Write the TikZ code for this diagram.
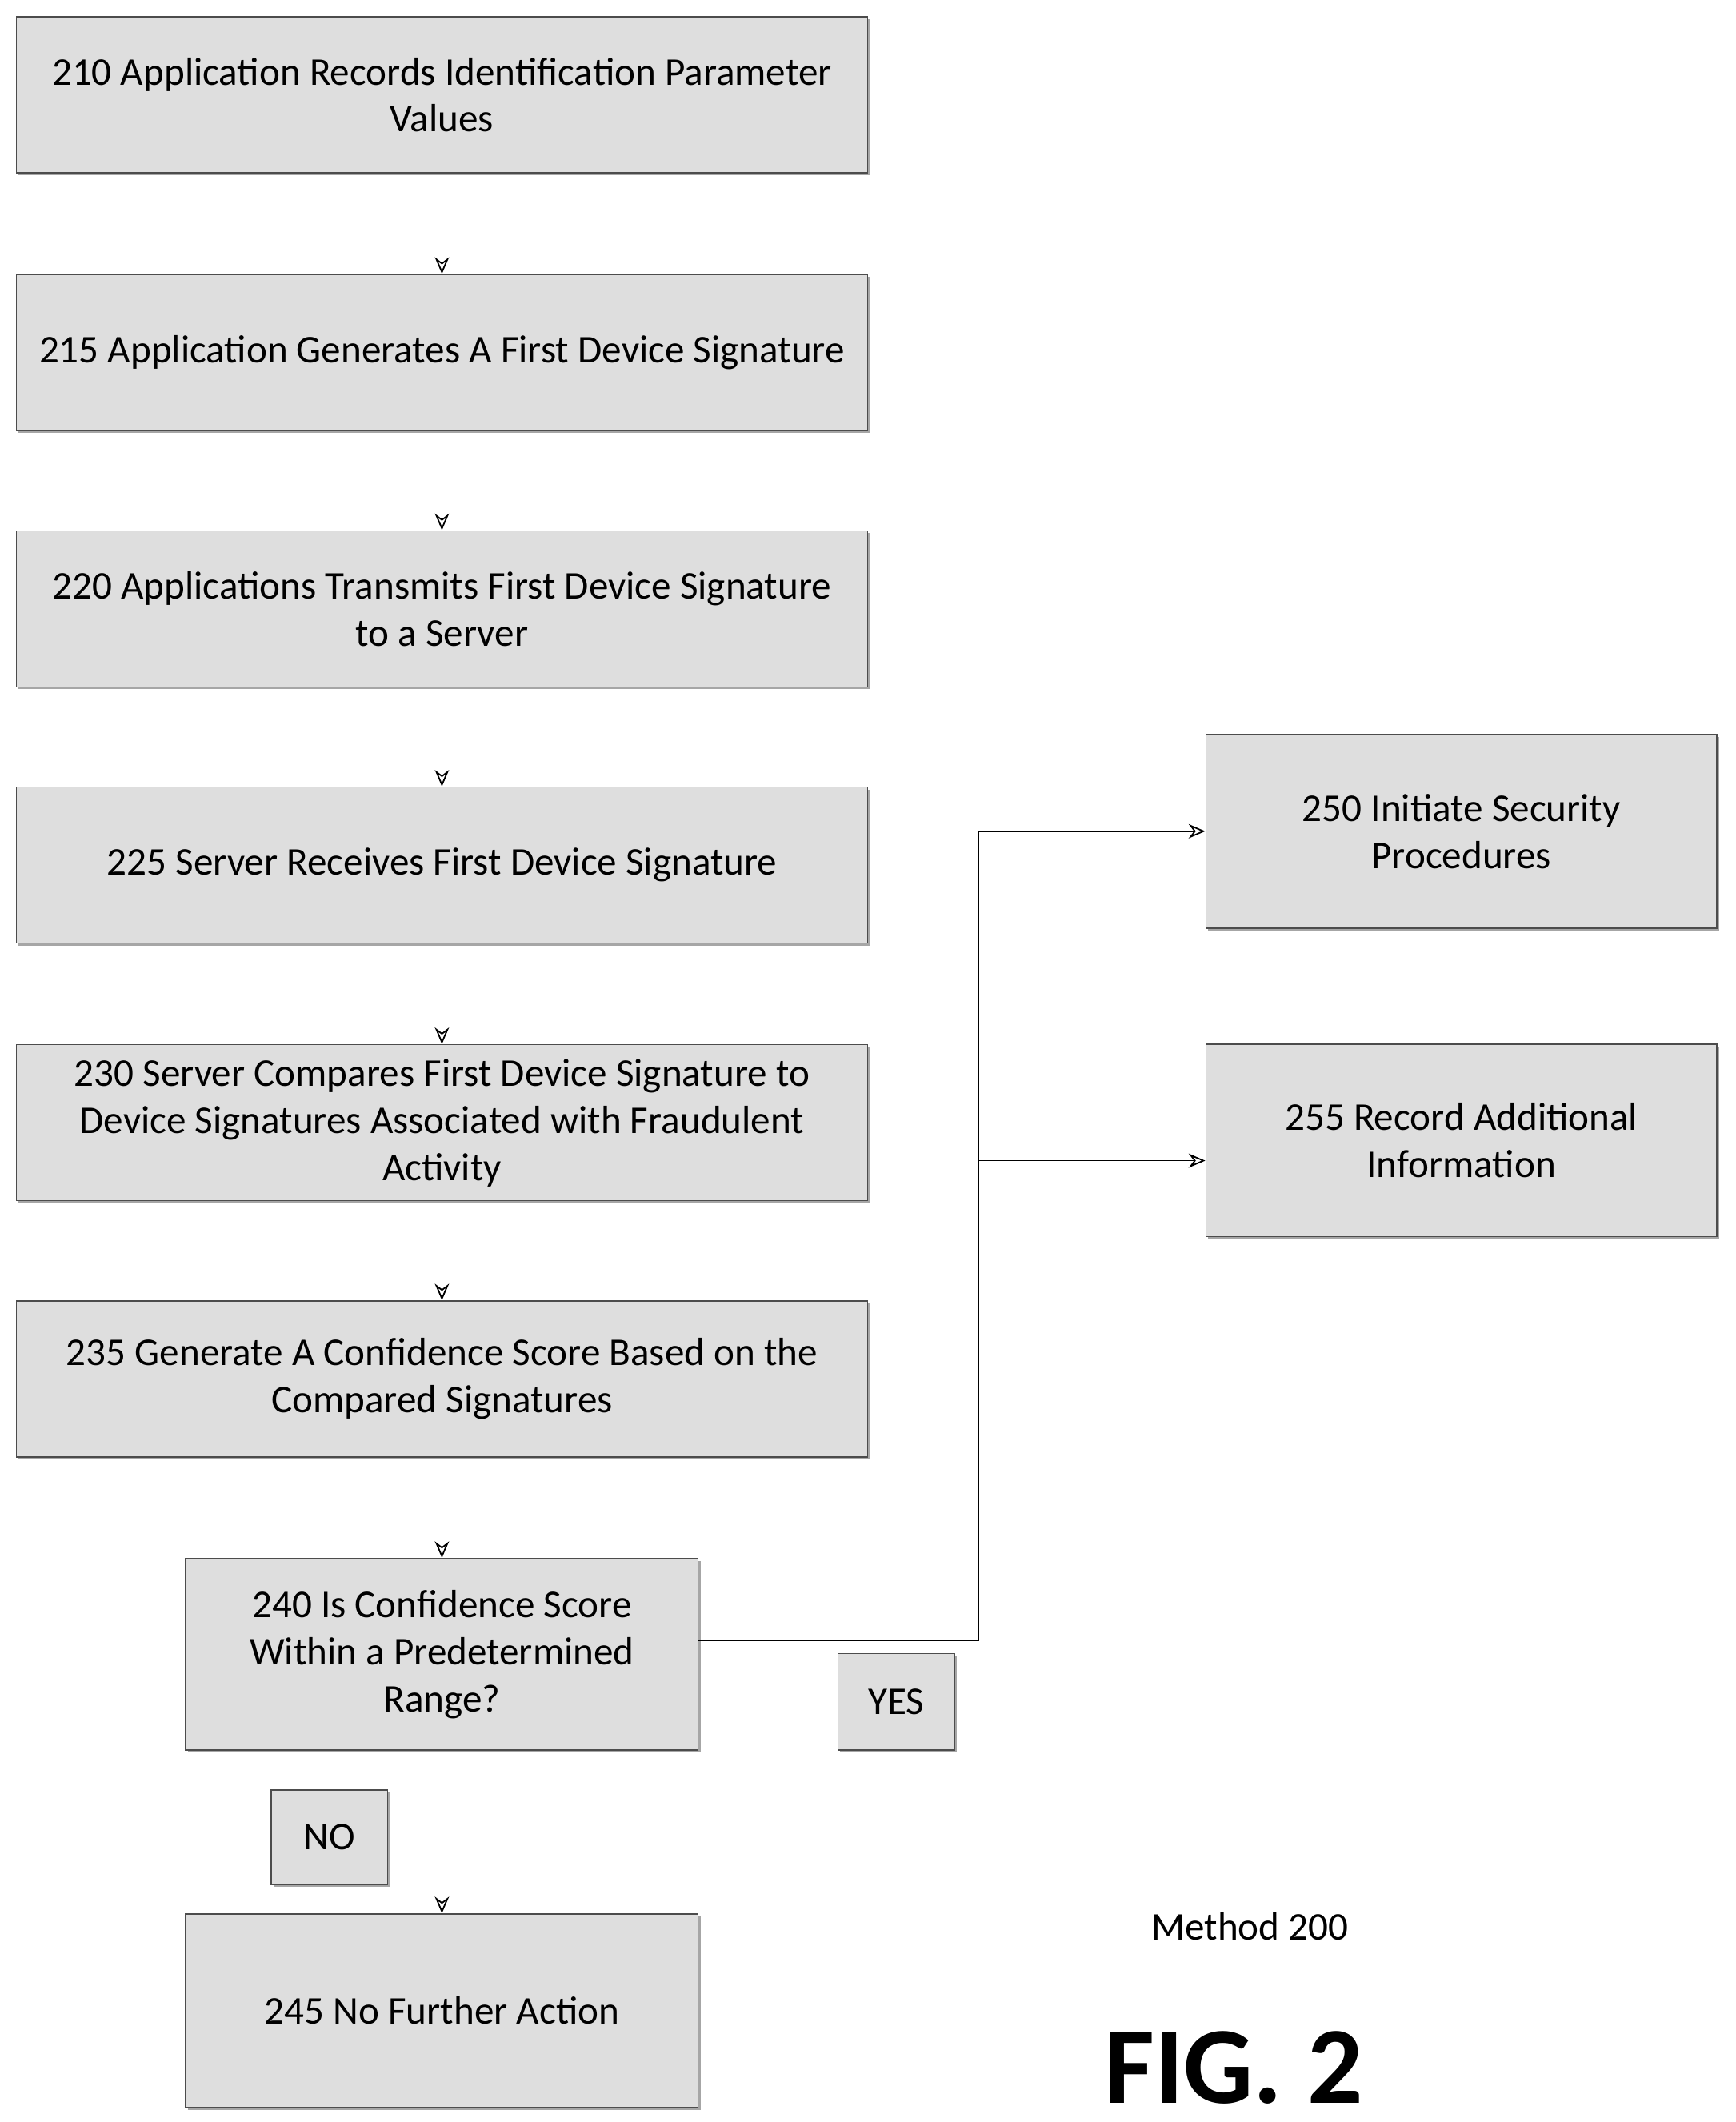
\documentclass[tikz,border=0pt]{standalone}
\usepackage{fontspec}
\setmainfont{Carlito}
\usetikzlibrary{arrows.meta,shadows}
\tikzstyle{block}=[draw=black!70, fill=black!13, line width=0.5pt, align=center,
  font=\fontsize{16.5}{19.8}\selectfont, inner sep=2pt,
  drop shadow={shadow xshift=1pt, shadow yshift=-1pt, fill=black!35, opacity=1}]
\tikzstyle{link}=[draw, line width=0.6pt, -{Stealth[length=7pt,width=6pt,open]}]
\newcommand{\block}{\node[block]}

\begin{document}
\begin{tikzpicture}[x=0.02cm, y=-0.02cm]
\useasboundingbox (0,0) rectangle (1280,1565);
\block[minimum width=628*0.02cm, minimum height=115*0.02cm] (s210) at (326,70) {210 Application Records Identification Parameter\\Values};
\block[minimum width=628*0.02cm, minimum height=115*0.02cm] (s215) at (326,260) {215 Application Generates A First Device Signature};
\block[minimum width=628*0.02cm, minimum height=115*0.02cm] (s220) at (326,449) {220 Applications Transmits First Device Signature\\to a Server};
\block[minimum width=628*0.02cm, minimum height=115*0.02cm] (s225) at (326,638) {225 Server Receives First Device Signature};
\block[minimum width=628*0.02cm, minimum height=115*0.02cm] (s230) at (326,828) {230 Server Compares First Device Signature to\\Device Signatures Associated with Fraudulent\\Activity};
\block[minimum width=628*0.02cm, minimum height=115*0.02cm] (s235) at (326,1017) {235 Generate A Confidence Score Based on the\\Compared Signatures};
\block[minimum width=378*0.02cm, minimum height=141*0.02cm] (s240) at (326,1220) {240 Is Confidence Score\\Within a Predetermined\\Range?};
\block[minimum width=378*0.02cm, minimum height=143*0.02cm] (s245) at (326,1483) {245 No Further Action};
\block[minimum width=377*0.02cm, minimum height=143*0.02cm] (s250) at (1078,613) {250 Initiate Security\\Procedures};
\block[minimum width=377*0.02cm, minimum height=142*0.02cm] (s255) at (1078,841) {255 Record Additional\\Information};
\block[minimum width=86*0.02cm, minimum height=71*0.02cm] (yes) at (661,1255) {YES};
\block[minimum width=86*0.02cm, minimum height=70*0.02cm] (no) at (243,1355) {NO};
\node[font=\fontsize{16.5}{19.8}\selectfont] (method) at (922,1421) {Method 200};
\node[font=\fontsize{46}{50}\bfseries] (fig) at (910,1525) {FIG. 2};
\coordinate (turn) at (722,1210);
\coordinate (split) at (722,856);
\path[link] (s210) -- (s215);
\path[link] (s215) -- (s220);
\path[link] (s220) -- (s225);
\path[link] (s225) -- (s230);
\path[link] (s230) -- (s235);
\path[link] (s235) -- (s240);
\path[link] (s240) -- (s245);
\path[link] (s240.east |- turn) -- (turn) |- (s250.west);
\path[link] (split) -- (s255.west |- split);
\end{tikzpicture}
\end{document}
